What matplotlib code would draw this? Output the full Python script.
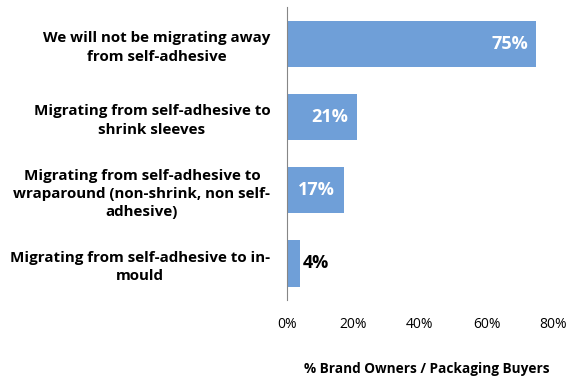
import matplotlib.pyplot as plt

# Survey responses
categories = [
    'We will not be migrating away\nfrom self-adhesive',
    'Migrating from self-adhesive to\nshrink sleeves',
    'Migrating from self-adhesive to\nwraparound (non-shrink, non self-\nadhesive)',
    'Migrating from self-adhesive to in-\nmould',
]
values = [75, 21, 17, 4]
xticks = [0, 20, 40, 60, 80]

plt.rcParams['font.family'] = ['Open Sans', 'DejaVu Sans']

fig = plt.figure(figsize=(5.71, 3.76), dpi=100)
ax = fig.add_axes([0.5026, 0.202, 0.4659, 0.779])

pos = list(range(len(categories)))
bars = ax.barh(pos, values, height=0.63, color='#6f9fd8')

ax.set_ylim(len(categories) - 0.5, -0.5)
ax.set_xlim(0, 80)
ax.set_xticks(xticks)
ax.set_xticklabels([f'{v}%' for v in xticks], fontsize=10)
ax.set_yticks(pos)
ax.set_yticklabels(categories, fontsize=10.9, fontweight='bold',
                   linespacing=1.4)
for lbl in ax.get_yticklabels():
    lbl.set_multialignment('center')

ax.tick_params(axis='y', length=0, pad=12)
ax.tick_params(axis='x', length=0, pad=12)
for side in ['top', 'right', 'bottom']:
    ax.spines[side].set_visible(False)
ax.spines['left'].set_color('#868686')

ax.set_xlabel('% Brand Owners / Packaging Buyers', fontsize=9.8,
              fontweight='bold')
ax.xaxis.set_label_coords(0.526, -0.21)

# Value labels: inside the bar when it is wide enough, otherwise just past its end
for bar, v in zip(bars, values):
    y = bar.get_y() + bar.get_height() / 2
    if v >= 10:
        ax.text(v - 2.5, y, f'{v}%', ha='right', va='center', color='white',
                fontsize=13, fontweight='bold')
    else:
        ax.text(v + 0.8, y, f'{v}%', ha='left', va='center', color='black',
                fontsize=13, fontweight='bold')

fig.savefig('out.png', dpi=100)
